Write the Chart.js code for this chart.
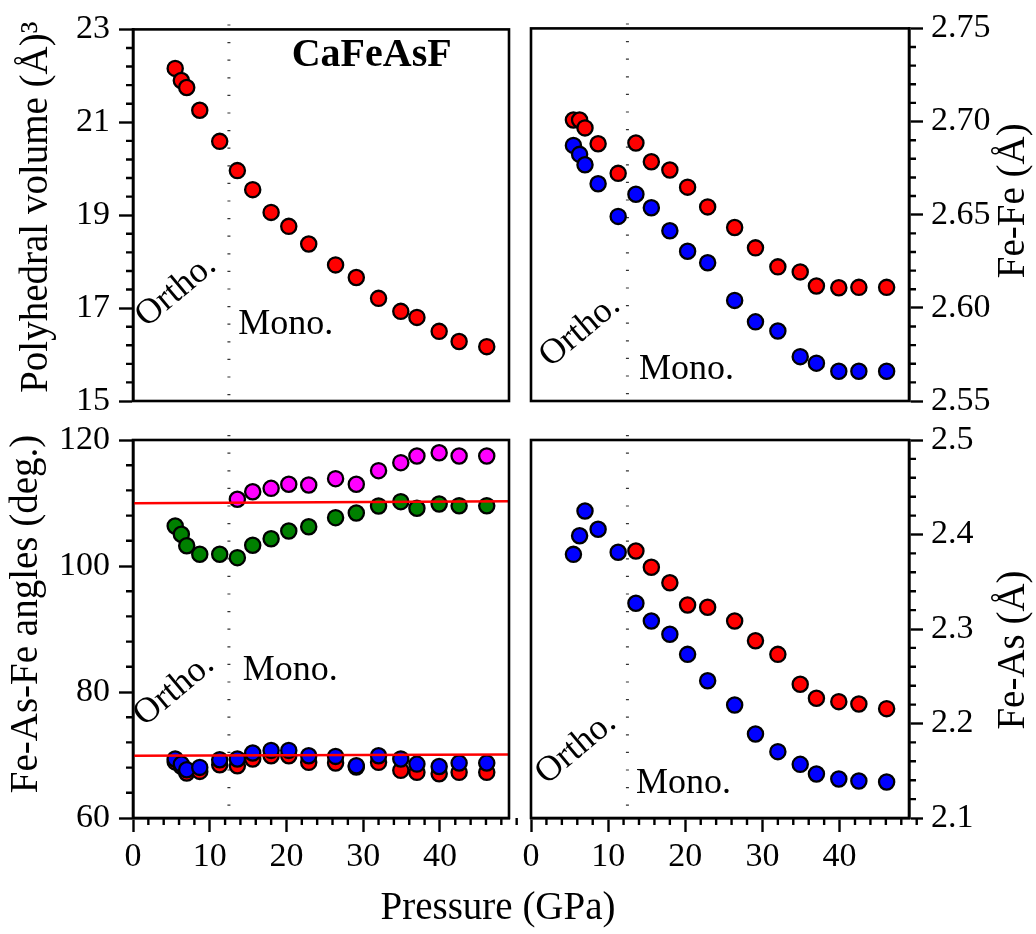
<!DOCTYPE html>
<html>
<head>
<meta charset="utf-8">
<title>CaFeAsF under pressure</title>
<script src="https://cdn.jsdelivr.net/npm/chart.js@4.4.1/dist/chart.umd.min.js"></script>
<style>
  html, body { margin: 0; padding: 0; background: #fff; }
  #wrap { position: relative; width: 1036px; height: 934px; }
  #wrap canvas { position: absolute; left: 0; top: 0; }
</style>
</head>
<body>
<div id="wrap">
  <canvas id="volume" width="1036" height="934"></canvas>
  <canvas id="fefe" width="1036" height="934"></canvas>
  <canvas id="angles" width="1036" height="934"></canvas>
  <canvas id="feas" width="1036" height="934"></canvas>
</div>
<script>
const SERIF = "'Liberation Serif', 'Times New Roman', serif"
const TRANSITION = 12.5 // GPa, ortho -> mono boundary

// pressure points (GPa); the mono-only series start at 13.6
const pressure = [5.5, 6.3, 7.0, 8.7, 11.3, 13.6, 15.6, 18.0, 20.3, 22.9, 26.4, 29.1, 32.0, 34.9, 37.0, 39.9, 42.5, 46.1]
const pressureMono = pressure.slice(5)

// polyhedral volume (A^3)
const volume = [22.16, 21.90, 21.75, 21.26, 20.59, 19.96, 19.55, 19.06, 18.76, 18.38, 17.93, 17.66, 17.21, 16.93, 16.80, 16.50, 16.28, 16.17]

// Fe-Fe distances (A)
const feFeLong = [2.7008, 2.7008, 2.6966, 2.6881, 2.6722, 2.6885, 2.6784, 2.6740, 2.6648, 2.6542, 2.6431, 2.6322, 2.6220, 2.6193, 2.6117, 2.6108, 2.6110, 2.6110]
const feFeShort = [2.6872, 2.6824, 2.6768, 2.6666, 2.6491, 2.6610, 2.6537, 2.6414, 2.6304, 2.6242, 2.6040, 2.5925, 2.5876, 2.5738, 2.5703, 2.5660, 2.5660, 2.5660]

// Fe-As-Fe angles (deg.)
const angleWide = [106.35, 105.03, 103.22, 101.86, 101.86, 101.32, 103.29, 104.33, 105.56, 106.24, 107.67, 108.41, 109.52, 110.21, 109.16, 109.84, 109.57, 109.57]
const angleWideMono = [110.59, 111.79, 112.33, 112.97, 112.86, 113.86, 112.97, 115.13, 116.40, 117.46, 117.98, 117.46, 117.46]
const angleNarrowA = [68.90, 68.20, 67.14, 67.40, 68.46, 68.30, 69.36, 69.88, 69.88, 68.83, 68.72, 68.10, 68.83, 67.56, 67.25, 67.03, 67.25, 67.25]
const angleNarrowB = [69.36, 68.56, 67.66, 68.03, 69.25, 69.36, 70.31, 70.73, 70.73, 69.88, 69.78, 68.30, 69.88, 69.36, 68.56, 68.18, 68.72, 68.72]
// reference lines across the panel
const refEnds = [0, 49]
const refHigh = [109.96, 110.28]
const refLow = [69.88, 70.09]

// Fe-As distances (A)
const feAsA = [2.3790, 2.3987, 2.4249, 2.4055, 2.3812, 2.3272, 2.3085, 2.2944, 2.2732, 2.2453, 2.2196, 2.1889, 2.1702, 2.1568, 2.1466, 2.1413, 2.1392, 2.1381]
const feAsB = [2.3825, 2.3653, 2.3490, 2.3254, 2.3230, 2.3085, 2.2876, 2.2732, 2.2415, 2.2267, 2.2231, 2.2206, 2.2157]

// tick labels
const pressureTicks = [0, 10, 20, 30, 40]
const volumeTicks = [15, 17, 19, 21, 23]
const feFeTicks = [2.55, 2.60, 2.65, 2.70, 2.75]
const angleTicks = [60, 80, 100, 120]
const feAsTicks = [2.1, 2.2, 2.3, 2.4, 2.5]

const RED = '#ff0000'
const BLUE = '#0000ff'
const GREEN = '#008000'
const MAGENTA = '#ff00ff'

const pts = (xs, ys) => xs.map((x, i) => ({ x, y: ys[i] }))

function dots(xs, ys, color, order) {
  return {
    data: pts(xs, ys),
    backgroundColor: color,
    borderColor: '#000',
    borderWidth: 2.3,
    pointRadius: 7.6,
    pointHoverRadius: 7.6,
    order
  }
}

function refLine(ys) {
  return {
    type: 'line',
    data: pts(refEnds, ys),
    borderColor: RED,
    borderWidth: 2.5,
    pointRadius: 0,
    showLine: true,
    order: 0
  }
}

// frame, minor ticks, phase boundary and text for one panel
function panelDecor(cfg) {
  const minorTicks = (scale, step, majors, draw) => {
    const n = Math.round((scale.max - scale.min) / step)
    for (let i = 0; i <= n; i++) {
      const v = scale.min + i * step
      if (majors.some(m => Math.abs(m - v) < step / 10)) continue
      draw(scale.getPixelForValue(v))
    }
  }

  return {
    id: 'panelDecor',
    beforeDatasetsDraw(chart) {
      const { ctx, chartArea: a, scales: { x } } = chart
      const px = x.getPixelForValue(TRANSITION)
      ctx.save()
      ctx.strokeStyle = '#333'
      ctx.lineWidth = 3
      ctx.setLineDash([1.2, 16.4])
      ctx.beginPath()
      ctx.moveTo(px, a.top - 5)
      ctx.lineTo(px, a.bottom)
      ctx.stroke()
      ctx.restore()
    },
    afterDraw(chart) {
      const { ctx, chartArea: a, scales: { x, y } } = chart
      ctx.save()
      ctx.strokeStyle = '#000'
      ctx.lineWidth = 2.6
      ctx.strokeRect(a.left, a.top, a.right - a.left, a.bottom - a.top)

      ctx.lineWidth = 2.4
      ctx.beginPath()
      minorTicks(y, cfg.minorStep, cfg.yTicks, py => {
        const edge = cfg.side === 'right' ? a.right : a.left
        const dir = cfg.side === 'right' ? 1 : -1
        ctx.moveTo(edge, py)
        ctx.lineTo(edge + dir * 7, py)
      })
      if (cfg.showX) {
        minorTicks(x, 2, pressureTicks, px => {
          ctx.moveTo(px, a.bottom)
          ctx.lineTo(px, a.bottom + 7)
        })
      }
      ctx.stroke()

      ctx.fillStyle = '#000'
      // axis title, rotated to read upwards
      const t = cfg.title
      const tx = (cfg.side === 'right' ? a.right : a.left) + t.dx
      const ty = (a.top + a.bottom) / 2 + t.dy
      ctx.save()
      ctx.translate(tx, ty)
      ctx.rotate(-Math.PI / 2)
      ctx.font = `39px ${SERIF}`
      ctx.textAlign = 'center'
      ctx.textBaseline = 'middle'
      ctx.fillText(t.text, 0, 0)
      ctx.restore()

      cfg.notes.forEach(n => {
        const px = x.getPixelForValue(n.x)
        const py = y.getPixelForValue(n.y)
        ctx.save()
        ctx.translate(px, py)
        if (n.rotate) ctx.rotate(n.rotate * Math.PI / 180)
        ctx.font = n.font || `36px ${SERIF}`
        ctx.textAlign = n.align || 'left'
        ctx.textBaseline = n.baseline || 'alphabetic'
        ctx.fillText(n.text, 0, 0)
        ctx.restore()
      })

      if (cfg.xTitle) {
        ctx.font = `39px ${SERIF}`
        ctx.textAlign = 'center'
        ctx.textBaseline = 'middle'
        ctx.fillText(cfg.xTitle, a.left + 365, a.bottom + 91)
      }
      ctx.restore()
    }
  }
}

function makePanel(id, cfg) {
  const right = cfg.side === 'right'
  const tickFont = { family: SERIF, size: 34 }
  const axisLine = { display: true, color: '#000', width: 2.6 }
  const grid = { drawOnChartArea: false, drawTicks: true, tickLength: 14, tickWidth: 2.4, tickColor: '#000' }

  return new Chart(document.getElementById(id), {
    type: 'scatter',
    data: { datasets: cfg.datasets },
    options: {
      responsive: false,
      animation: false,
      events: [],
      layout: { padding: cfg.padding },
      plugins: { legend: { display: false }, tooltip: { enabled: false } },
      scales: {
        x: {
          type: 'linear',
          min: 0,
          max: 49,
          display: cfg.showX,
          afterBuildTicks: s => { s.ticks = pressureTicks.map(value => ({ value })) },
          afterFit: s => { s.height = cfg.showX ? 116 : 0 },
          ticks: { font: tickFont, color: '#000', padding: 5, maxRotation: 0, autoSkip: false },
          grid,
          border: axisLine
        },
        y: {
          type: 'linear',
          position: right ? 'right' : 'left',
          min: cfg.yTicks[0],
          max: cfg.yTicks[cfg.yTicks.length - 1],
          afterBuildTicks: s => { s.ticks = cfg.yTicks.map(value => ({ value })) },
          afterFit: s => { s.width = right ? 127 : 133 },
          ticks: {
            font: tickFont,
            color: '#000',
            padding: right ? 8 : 9,
            autoSkip: false,
            callback: v => v.toFixed(cfg.decimals)
          },
          grid,
          border: axisLine
        }
      }
    },
    plugins: [panelDecor(cfg)]
  })
}

makePanel('volume', {
  side: 'left',
  showX: false,
  padding: { left: 0, top: 23, right: 527, bottom: 533 },
  yTicks: volumeTicks,
  decimals: 0,
  minorStep: 0.4,
  title: { text: 'Polyhedral volume (Å)³', dx: -96, dy: -8 },
  notes: [
    { text: 'Ortho.', x: 5.6, y: 17.37, rotate: -40, align: 'center', baseline: 'middle' },
    { text: 'Mono.', x: 13.7, y: 16.44 },
    { text: 'CaFeAsF', x: 31.1, y: 22.43, align: 'center', baseline: 'middle', font: `bold 40px ${SERIF}` }
  ],
  datasets: [dots(pressure, volume, RED, 1)]
})

makePanel('fefe', {
  side: 'right',
  showX: false,
  padding: { left: 531, top: 23, right: 0, bottom: 533 },
  yTicks: feFeTicks,
  decimals: 2,
  minorStep: 0.01,
  title: { text: 'Fe-Fe (Å)', dx: 105, dy: -14 },
  notes: [
    { text: 'Ortho.', x: 6.35, y: 2.5876, rotate: -40, align: 'center', baseline: 'middle' },
    { text: 'Mono.', x: 14.0, y: 2.5616 }
  ],
  datasets: [
    dots(pressure, feFeShort, BLUE, 1),
    dots(pressure, feFeLong, RED, 2)
  ]
})

makePanel('angles', {
  side: 'left',
  showX: true,
  padding: { left: 0, top: 440, right: 527, bottom: 0 },
  yTicks: angleTicks,
  decimals: 0,
  minorStep: 4,
  title: { text: 'Fe-As-Fe angles (deg.)', dx: -106, dy: -15 },
  xTitle: 'Pressure (GPa)',
  notes: [
    { text: 'Ortho.', x: 5.35, y: 80.32, rotate: -40, align: 'center', baseline: 'middle' },
    { text: 'Mono.', x: 14.3, y: 81.9 }
  ],
  datasets: [
    refLine(refHigh),
    refLine(refLow),
    dots(pressure, angleNarrowB, BLUE, 1),
    dots(pressure, angleNarrowA, RED, 2),
    dots(pressureMono, angleWideMono, MAGENTA, 3),
    dots(pressure, angleWide, GREEN, 4)
  ]
})

makePanel('feas', {
  side: 'right',
  showX: true,
  padding: { left: 531, top: 440, right: 0, bottom: 0 },
  yTicks: feAsTicks,
  decimals: 1,
  minorStep: 0.02,
  title: { text: 'Fe-As (Å)', dx: 105, dy: 21 },
  notes: [
    { text: 'Ortho.', x: 5.83, y: 2.174, rotate: -40, align: 'center', baseline: 'middle' },
    { text: 'Mono.', x: 13.6, y: 2.1265 }
  ],
  datasets: [
    dots(pressure, feAsA, BLUE, 1),
    dots(pressureMono, feAsB, RED, 2)
  ]
})
</script>
</body>
</html>
